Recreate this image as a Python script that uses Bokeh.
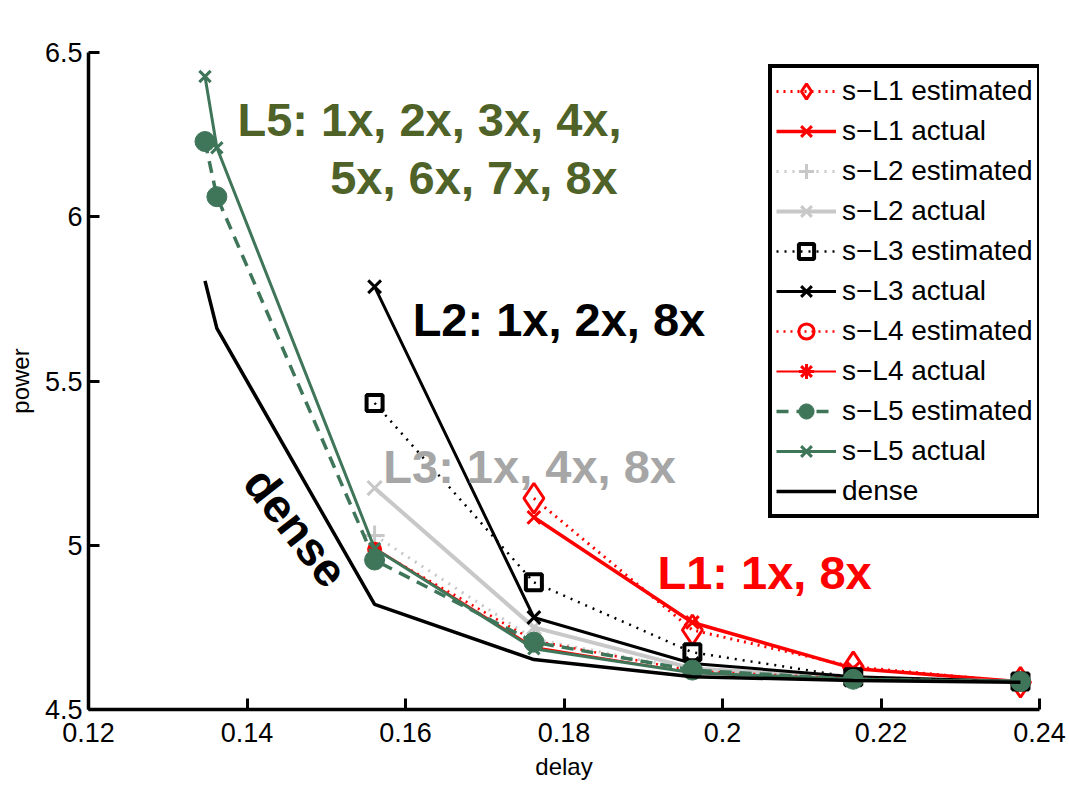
import math
from bokeh.plotting import figure
from bokeh.models import Legend, LegendItem, Label, FixedTicker, Range1d
from bokeh.embed import file_html
from bokeh.resources import INLINE

# ---------------- data (power in units of 1e5) ----------------
delay = [0.1347, 0.1362, 0.1561, 0.1762, 0.1962, 0.2165, 0.2376]
delay_s = delay[2:]    # series starting at 0.156
delay_l1 = delay[3:]   # series starting at 0.176

l1_est = [5.143, 4.742, 4.630, 4.583]
l1_act = [5.085, 4.765, 4.625, 4.585]
l2_est = [5.030, 4.715, 4.620, 4.595, 4.585]
l2_act = [5.174, 4.750, 4.625, 4.597, 4.585]
l3_est = [5.433, 4.887, 4.674, 4.598, 4.585]
l3_act = [5.787, 4.780, 4.640, 4.600, 4.585]
l4_est = [4.988, 4.710, 4.617, 4.594, 4.585]
l4_act = [4.992, 4.690, 4.612, 4.592, 4.585]
l5_est = [6.229, 6.061, 4.955, 4.705, 4.620, 4.592, 4.585]
l5_act = [6.427, 6.210, 4.990, 4.685, 4.612, 4.592, 4.585]
dense = [5.805, 5.660, 4.820, 4.652, 4.600, 4.588, 4.583]

x_ticks = [0.12, 0.14, 0.16, 0.18, 0.2, 0.22, 0.24]
x_tick_labels = ["0.12", "0.14", "0.16", "0.18", "0.2", "0.22", "0.24"]
y_ticks = [4.5, 5.0, 5.5, 6.0, 6.5]
y_tick_labels = ["4.5", "5", "5.5", "6", "6.5"]

legend_labels = ["s\u2212L1 estimated", "s\u2212L1 actual", "s\u2212L2 estimated", "s\u2212L2 actual",
                 "s\u2212L3 estimated", "s\u2212L3 actual", "s\u2212L4 estimated", "s\u2212L4 actual",
                 "s\u2212L5 estimated", "s\u2212L5 actual", "dense"]

RED = "#ff0000"
GRAY = "#c8c8c8"
BLACK = "#000000"
GREEN = "#3f7559"
FONT = "Liberation Sans"

p = figure(width=1069, height=788, output_backend="svg", toolbar_location=None,
           x_range=Range1d(0.12, 0.24), y_range=Range1d(4.5, 6.5),
           min_border_left=88, min_border_right=30, min_border_top=52, min_border_bottom=79)
p.outline_line_color = None
p.xgrid.visible = False
p.ygrid.visible = False
p.background_fill_color = "white"
p.border_fill_color = "white"

for ax, ticks, labels in ((p.xaxis[0], x_ticks, x_tick_labels), (p.yaxis[0], y_ticks, y_tick_labels)):
    ax.ticker = FixedTicker(ticks=ticks)
    ax.major_label_overrides = {t: l for t, l in zip(ticks, labels)}
    ax.axis_line_width = 3.5
    ax.axis_line_color = "black"
    ax.major_tick_in = 11
    ax.major_tick_out = 0
    ax.major_tick_line_width = 3
    ax.minor_tick_line_color = None
    ax.major_label_text_font = FONT
    ax.major_label_text_font_size = "27px"
    ax.major_label_text_color = "black"
    ax.axis_label_text_font = FONT
    ax.axis_label_text_font_size = "24px"
    ax.axis_label_text_font_style = "normal"
    ax.axis_label_text_color = "black"

p.xaxis.axis_label = "delay"
p.yaxis.axis_label = "power"
p.xaxis.major_label_standoff = 13
p.yaxis.major_label_standoff = 6
p.xaxis.axis_label_standoff = 8
p.yaxis.axis_label_standoff = 8


def series(x, y, color, dash, lw, marker, size, fill=None, mlw=3):
    r_line = p.line(x, y, line_color=color, line_width=lw, line_dash=dash)
    r_mark = p.scatter(x, y, marker=marker, size=size, line_color=color, line_width=mlw,
                       fill_color=fill, fill_alpha=1.0 if fill else 0.0)
    return [r_line, r_mark]


items = []
items.append(series(delay_l1, l1_est, RED, "2 5", 3, "diamond", 30))
items.append(series(delay_l1, l1_act, RED, "solid", 3.5, "x", 18))
items.append(series(delay_s, l2_est, GRAY, "2 6", 3, "cross", 20))
items.append(series(delay_s, l2_act, GRAY, "solid", 4, "x", 20))
items.append(series(delay_s, l3_est, BLACK, "2 6", 2.5, "square", 16, mlw=4))
items.append(series(delay_s, l3_act, BLACK, "solid", 3, "x", 18))
items.append(series(delay_s, l4_est, RED, "2 5", 2.5, "circle", 12))
items.append(series(delay_s, l4_act, RED, "solid", 2, "asterisk", 10))
items.append(series(delay, l5_est, GREEN, "12 8", 3.5, "circle", 20, fill=GREEN, mlw=1))
items.append(series(delay, l5_act, GREEN, "solid", 3, "x", 16))
items.append([p.line(delay, dense, line_color=BLACK, line_width=3.5)])

legend = Legend(items=[LegendItem(label=l, renderers=r) for l, r in zip(legend_labels, items)],
                location=(680, 191), orientation="vertical",
                border_line_color="black", border_line_width=4, border_line_alpha=1.0,
                background_fill_color="white", background_fill_alpha=1.0,
                label_text_font=FONT, label_text_font_size="28px", label_text_color="black",
                glyph_width=60, glyph_height=38, label_height=32, spacing=2,
                padding=4, margin=0, label_standoff=6)
p.add_layout(legend)

# annotations
def note(x, y, text, color, size="47px", angle=0.0, align="left"):
    p.add_layout(Label(x=x, y=y, text=text, text_color=color, text_font=FONT,
                       text_font_size=size, text_font_style="bold", angle=angle,
                       text_align=align, text_baseline="middle"))

note(0.1388, 6.296, "L5: 1x, 2x, 3x, 4x,", "#4f6228")
note(0.1505, 6.119, "5x, 6x, 7x, 8x", "#4f6228")
note(0.1609, 5.686, "L2: 1x, 2x, 8x", "black")
note(0.1572, 5.241, "L3: 1x, 4x, 8x", "#a6a6a6")
note(0.1918, 4.918, "L1: 1x, 8x", RED)
note(0.1462, 5.055, "dense", "black", angle=-52 * math.pi / 180, align="center")

p.add_layout(Label(x=0.12, y=6.564, text="x 10", text_font=FONT, text_font_size="27px",
                   text_color="black", text_baseline="middle", text_align="left"))
p.add_layout(Label(x=0.12694, y=6.616, text="5", text_font=FONT, text_font_size="18px",
                   text_color="black", text_baseline="middle", text_align="left"))

open("out.html", "w").write(file_html(p, INLINE))
